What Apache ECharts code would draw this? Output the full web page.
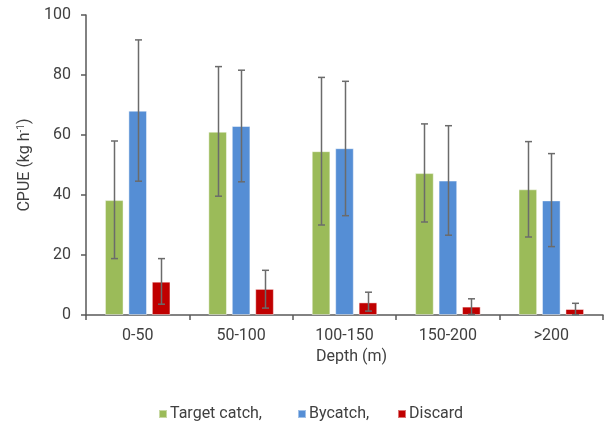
<!DOCTYPE html>
<html>
<head>
<meta charset="utf-8">
<script src="https://cdn.jsdelivr.net/npm/echarts@6/dist/echarts.min.js"></script>
<style>
  html, body { margin: 0; padding: 0; background: #fff; }
  #chart { width: 606px; height: 424px; }
</style>
</head>
<body>
<div id="chart"></div>
<script>
// Depth bands
const categories = ['0-50', '50-100', '100-150', '150-200', '>200'];

// Mean CPUE per depth band (kg/h) with error bar limits
const targetCatch = [38.3, 61.1, 54.6, 47.3, 41.9];
const targetLow   = [18.8, 39.6, 30.0, 31.0, 26.0];
const targetHigh  = [58.0, 82.8, 79.2, 63.7, 57.8];

const bycatch     = [68.1, 63.0, 55.6, 44.8, 38.2];
const bycatchLow  = [44.6, 44.4, 33.1, 26.6, 22.8];
const bycatchHigh = [91.7, 81.6, 77.9, 63.1, 53.8];

const discard     = [11.1, 8.7, 4.2, 2.8, 2.0];
const discardLow  = [3.6, 2.3, 1.3, 0.2, 0.1];
const discardHigh = [18.8, 14.9, 7.6, 5.4, 3.9];

const yTicks = [0, 20, 40, 60, 80, 100];

const seriesNames = ['Target catch,', 'Bycatch,', 'Discard'];
const colors = ['#9BBB59', '#558ED5', '#C00000'];
const legendLeft = [153, 292, 392];

const BAR_FRAC = 0.18;   // bar width as a fraction of the category band
const GAP_FRAC = 0.26;   // gap between bars as a fraction of bar width
const FONT = 'Roboto, "Liberation Sans", sans-serif';
const TEXT = '#404040';
const AXIS = '#595959';

function errorSeries(idx, lows, highs) {
  return {
    type: 'custom',
    name: seriesNames[idx],
    z: 10,
    silent: true,
    data: lows.map((lo, i) => [i, lo, highs[i]]),
    renderItem: function (params, api) {
      const cat = api.value(0);
      const band = api.size([1, 0])[0];
      const barW = band * BAR_FRAC;
      const step = barW * (1 + GAP_FRAC);
      const offset = (idx - 1) * step;
      const top = api.coord([cat, api.value(2)]);
      const bot = api.coord([cat, api.value(1)]);
      const x = Math.round(top[0] + offset) + 0.5;
      const cap = 3.5;
      const style = { stroke: '#6b6b6b', lineWidth: 1.5 };
      return {
        type: 'group',
        children: [
          { type: 'line', shape: { x1: x, y1: top[1], x2: x, y2: bot[1] }, style: style },
          { type: 'line', shape: { x1: x - cap, y1: top[1], x2: x + cap, y2: top[1] }, style: style },
          { type: 'line', shape: { x1: x - cap, y1: bot[1], x2: x + cap, y2: bot[1] }, style: style }
        ]
      };
    }
  };
}

function barSeries(idx, values) {
  return {
    type: 'bar',
    name: seriesNames[idx],
    data: values,
    barWidth: (BAR_FRAC * 100) + '%',
    barGap: (GAP_FRAC * 100) + '%',
    itemStyle: {
      color: colors[idx],
      borderColor: 'rgba(255,255,255,0.45)',
      borderWidth: 1
    },
    emphasis: { disabled: true }
  };
}

// One legend block per series so each entry sits at its own position
const legends = seriesNames.map((name, i) => ({
  data: [name],
  left: legendLeft[i],
  top: 401,
  icon: 'rect',
  itemWidth: 8,
  itemHeight: 8,
  itemGap: 0,
  selectedMode: false,
  textStyle: { fontSize: 16, color: TEXT, fontFamily: FONT, padding: [0, 0, 0, -2] }
}));

const chart = echarts.init(document.getElementById('chart'), null, { renderer: 'canvas' });

chart.setOption({
  animation: false,
  backgroundColor: '#ffffff',
  textStyle: { fontFamily: FONT },
  grid: { left: 86, right: 3, top: 15, bottom: 109, containLabel: false },
  legend: legends,
  xAxis: {
    type: 'category',
    data: categories,
    boundaryGap: true,
    name: 'Depth (m)',
    nameLocation: 'middle',
    nameGap: 34,
    nameTextStyle: { fontSize: 16, color: TEXT, fontFamily: FONT, padding: [0, 0, 0, 14] },
    axisLine: { lineStyle: { color: AXIS, width: 1.5 } },
    axisTick: { show: true, length: 5, alignWithLabel: false, lineStyle: { color: AXIS, width: 1.5 } },
    axisLabel: { fontSize: 16, color: TEXT, margin: 13, fontFamily: FONT }
  },
  yAxis: {
    type: 'value',
    min: yTicks[0],
    max: yTicks[yTicks.length - 1],
    interval: yTicks[1] - yTicks[0],
    name: '{a|CPUE (kg h}{s|-1}{a|)}',
    nameLocation: 'middle',
    nameGap: 48,
    nameTextStyle: {
      rich: {
        a: { fontSize: 16, color: TEXT, fontFamily: FONT, lineHeight: 18 },
        s: { fontSize: 10, color: TEXT, fontFamily: FONT, verticalAlign: 'top', lineHeight: 18 }
      }
    },
    splitLine: { show: false },
    axisLine: { show: true, lineStyle: { color: AXIS, width: 1.5 } },
    axisTick: { show: true, length: 5, lineStyle: { color: AXIS, width: 1.5 } },
    axisLabel: { fontSize: 16, color: TEXT, margin: 15, fontFamily: FONT }
  },
  series: [
    barSeries(0, targetCatch),
    barSeries(1, bycatch),
    barSeries(2, discard),
    errorSeries(0, targetLow, targetHigh),
    errorSeries(1, bycatchLow, bycatchHigh),
    errorSeries(2, discardLow, discardHigh)
  ]
});
</script>
</body>
</html>
